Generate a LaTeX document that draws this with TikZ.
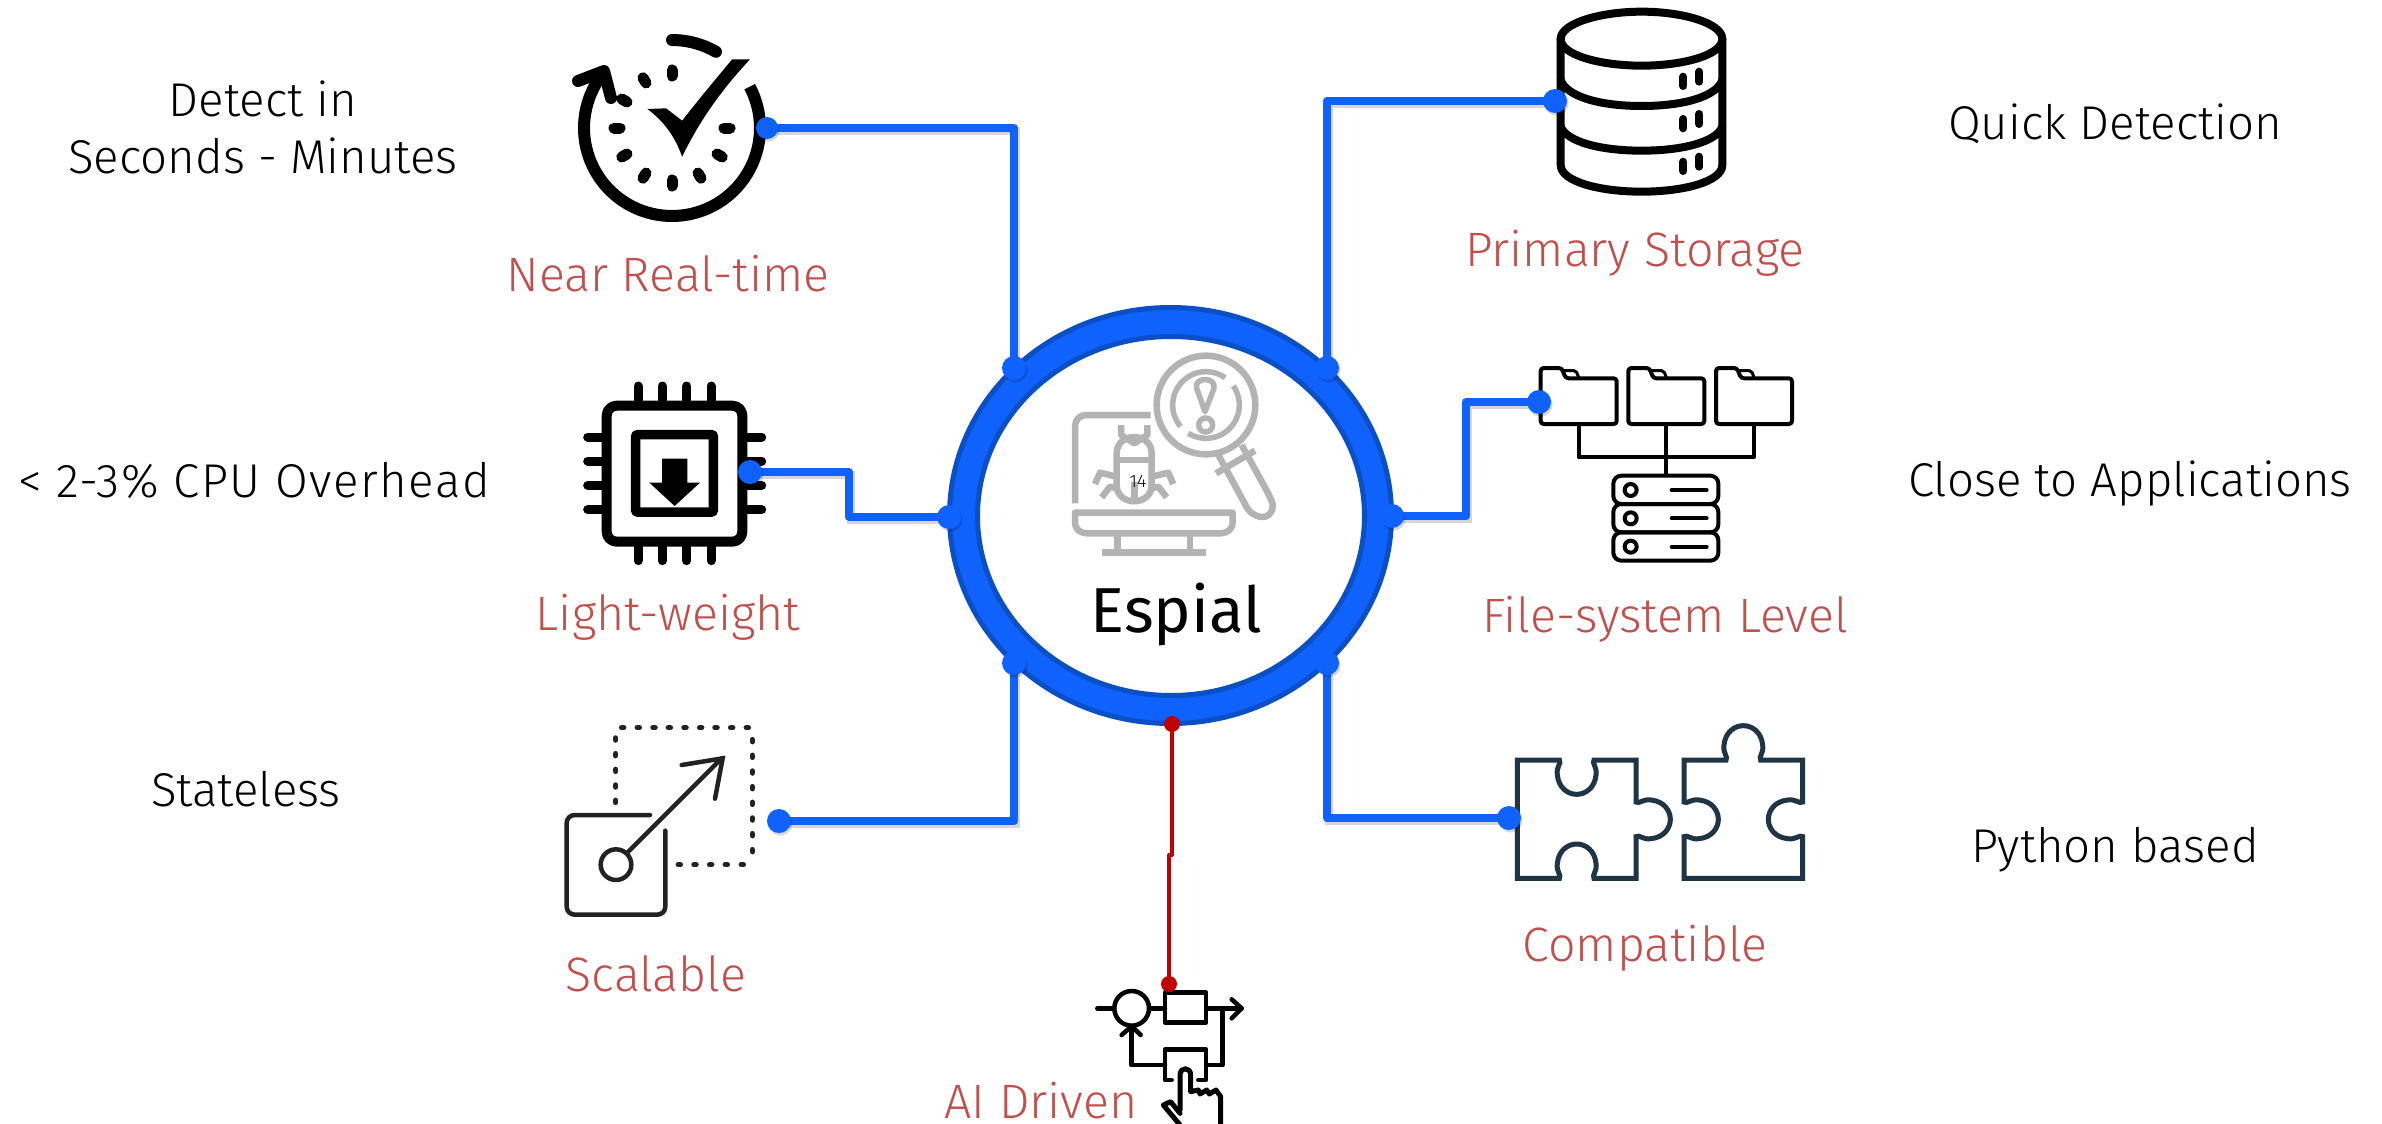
\documentclass[tikz,border=0pt]{standalone}
\usepackage{fontspec}
\setmainfont{Fira Sans Light}
\newfontfamily\regfont{Fira Sans}
\usetikzlibrary{shapes.geometric,shadows}
\pgfdeclarelayer{backpart}
\pgfdeclarelayer{wirepart}
\pgfsetlayers{backpart,wirepart,main}
\definecolor{ringblue}{HTML}{0F62FE}
\definecolor{ringedge}{HTML}{0B4FC4}
\definecolor{labelred}{HTML}{C0504D}
\definecolor{wirered}{HTML}{C00000}
\definecolor{icongrey}{HTML}{B3B3B3}
\definecolor{puzzleink}{HTML}{1F3545}
\definecolor{scaleink}{HTML}{222222}
\newcommand{\knob}[6]{-- ({#1-52*(#3)},{#2-52*(#4)})
 .. controls ({#1-45*(#3)+10*(#5)},{#2-45*(#4)+10*(#6)}) and ({#1-62*(#3)+20*(#5)},{#2-62*(#4)+20*(#6)}) .. ({#1-58*(#3)+45*(#5)},{#2-58*(#4)+45*(#6)})
 .. controls ({#1-54*(#3)+85*(#5)},{#2-54*(#4)+85*(#6)}) and ({#1-25*(#3)+103*(#5)},{#2-25*(#4)+103*(#6)}) .. ({#1+103*(#5)},{#2+103*(#6)})
 .. controls ({#1+25*(#3)+103*(#5)},{#2+25*(#4)+103*(#6)}) and ({#1+54*(#3)+85*(#5)},{#2+54*(#4)+85*(#6)}) .. ({#1+58*(#3)+45*(#5)},{#2+58*(#4)+45*(#6)})
 .. controls ({#1+62*(#3)+20*(#5)},{#2+62*(#4)+20*(#6)}) and ({#1+45*(#3)+10*(#5)},{#2+45*(#4)+10*(#6)}) .. ({#1+52*(#3)},{#2+52*(#4)})}
\tikzset{
  wire/.style={draw=ringblue,line width=8pt,line join=round,
    preaction={draw=black,opacity=.16,line width=8pt,transform canvas={xshift=1.5pt,yshift=-2.5pt}}},
  redwire/.style={draw=wirered,line width=4pt,line join=round},
  bluedot/.style={circle,fill=ringblue,inner sep=0pt,minimum size=24pt,
    drop shadow={shadow xshift=1.5pt,shadow yshift=-2.5pt,opacity=.16,fill=black}},
  reddot/.style={circle,fill=wirered,inner sep=0pt,minimum size=16pt},
  redlabel/.style={text=labelred,inner sep=0pt,anchor=base,font=\fontsize{48.3}{58}\selectfont},
  blacklabel/.style={text=black,inner sep=0pt,anchor=base,align=center,font=\fontsize{47.4}{57}\selectfont},
  ink/.style={draw=black,line cap=round,line join=round},
  greyink/.style={draw=icongrey,line width=6.5pt,line join=round},
}
\begin{document}
\begin{tikzpicture}[x=1pt,y=-1pt]
\useasboundingbox (0,0) rectangle (2382,1124);

\coordinate (c1a) at (1014,128);
\coordinate (c2a) at (849,472);
\coordinate (c2b) at (849,517);
\coordinate (c3a) at (1014,821);
\coordinate (c4a) at (1327,101);
\coordinate (c5a) at (1466,402);
\coordinate (c5b) at (1466,516);
\coordinate (c6a) at (1327,818);
\coordinate (c7a) at (1172,855);
\coordinate (c7b) at (1169,855);

\begin{pgfonlayer}{backpart}
\fill[white] (0,0) rectangle (2382,1124);

%% hub
\node[ellipse,fill=ringblue,draw=ringedge,line width=5pt,inner sep=0pt,minimum width=442pt,minimum height=416pt] (hubouter) at (1170.5,515.5) {};
\node[ellipse,fill=white,draw=ringedge,line width=5pt,inner sep=0pt,minimum width=387pt,minimum height=359pt] (hubinner) at (1171,516) {};

%% clock icon
\draw[ink,line width=12pt,line cap=round] plot[domain=90:60,samples=12,smooth] ({672+88*cos(\x)},{128-88*sin(\x)});
\draw[ink,line width=12pt,line cap=butt] plot[domain=28:-214,samples=60,smooth] ({672+88*cos(\x)},{128-88*sin(\x)});
\draw[ink,line width=12pt] (578,81) -- (604,71) -- (611,98);
\foreach \a in {90,120,150,180,210,240,270,300,330,0}
  \draw[ink,line width=11pt] ({672+52*cos(\a)},{128-52*sin(\a)}) -- ({672+58*cos(\a)},{128-58*sin(\a)});
\begin{scope}[shift={(500,0)},xscale=1/2.8,yscale=1/3]
  \fill[black] (413,327) -- (465,325) -- (510,362) .. controls (570,280) and (610,230) .. (650,178) -- (700,178)
    .. controls (620,270) and (560,360) .. (510,470) .. controls (490,410) and (460,365) .. (413,327) -- cycle;
\end{scope}

%% cpu icon
\begin{scope}[shift={(540,360)},scale=1/3]
  \draw[ink,line width=10pt,rounded corners=10pt] (200,137) rectangle (607,545);
  \draw[ink,line width=9.5pt,rounded corners=1pt] (287,224) rectangle (520,456);
  \fill[black] (366,296) -- (442,296) -- (442,368) -- (480,368) -- (404,438) -- (328,368) -- (366,368) -- cycle;
  \foreach \p in {294,367,440,513} {
    \draw[ink,line width=9pt] (\p,122) -- (\p,78);
    \draw[ink,line width=9pt] (\p,558) -- (\p,602);
  }
  \foreach \p in {231,303,376,449} {
    \draw[ink,line width=9pt] (187,\p) -- (143,\p);
    \draw[ink,line width=9pt] (620,\p) -- (665,\p);
  }
\end{scope}

%% scale icon
\begin{scope}[shift={(540,700)},scale=1/3]
  \foreach \p in {248,295,342,388,435,482,528,575,622} \draw[draw=scaleink,line cap=round,line width=5.5pt] (\p-3,83) -- (\p+3,83);
  \foreach \p in {117,164,211,258,304} \draw[draw=scaleink,line cap=round,line width=5.5pt] (227,\p-3) -- (227,\p+3);
  \foreach \p in {122,169,216,263,310,357,404,452} \draw[draw=scaleink,line cap=round,line width=5.5pt] (637,\p-3) -- (637,\p+3);
  \foreach \p in {418,465,512,559,607} \draw[draw=scaleink,line cap=round,line width=5.5pt] (\p-3,494) -- (\p+3,494);
  \draw[draw=scaleink,line width=4.5pt,line cap=round,rounded corners=8pt] (330,345) -- (80,345) -- (80,644) -- (376,644) -- (376,392);
  \draw[draw=scaleink,line width=4.5pt] (228,494) circle[radius=46pt];
  \draw[draw=scaleink,line width=4.5pt,line cap=round] (262,458) -- (545,175);
  \draw[draw=scaleink,line width=4.5pt,line cap=round,line join=miter] (425,195) -- (548,175) -- (525,296);
\end{scope}

%% database icon
\begin{scope}[shift={(1500,0)},scale=1/3]
  \draw[ink,line width=8pt] (182,117) .. controls (182,70) and (300,35) .. (425,35) .. controls (550,35) and (667,70) .. (667,117)
    .. controls (667,165) and (550,197) .. (425,197) .. controls (300,197) and (182,165) .. (182,117) -- cycle;
  \draw[ink,line width=8pt] (182,117) -- (182,495) .. controls (182,545) and (300,575) .. (425,575) .. controls (550,575) and (667,545) .. (667,495) -- (667,117);
  \draw[ink,line width=8pt] (182,240) .. controls (200,290) and (300,318) .. (425,318) .. controls (550,318) and (650,290) .. (667,240);
  \draw[ink,line width=8pt] (182,380) .. controls (200,425) and (300,452) .. (425,452) .. controls (550,452) and (650,425) .. (667,380);
  \foreach \d in {0,127,255} {
    \draw[ink,line width=8pt] (550,{230+\d}) -- (550,{258+\d});
    \draw[ink,line width=8pt] (598,{215+\d}) -- (598,{245+\d});
  }
\end{scope}

%% file-system icon
\begin{scope}[shift={(1500,340)},scale=1/3]
  \foreach \d in {0,263,526} {
    \draw[ink,line width=4pt,rounded corners=3pt] ({122+\d},84) -- ({122+\d},252) -- ({350+\d},252) -- ({350+\d},115) -- ({197+\d},115) -- ({185+\d},84) -- cycle;
    \draw[ink,line width=3pt,rounded corners=2pt] ({190+\d},92) -- ({228+\d},92) -- ({236+\d},112);
  }
  \draw[ink,line width=4pt] (236,252) -- (236,352) -- (762,352) -- (762,252);
  \draw[ink,line width=4pt] (497,252) -- (497,405);
  \foreach \d in {0,85,170} {
    \draw[ink,line width=4pt,rounded corners=8pt] (340,{407+\d}) rectangle (655,{492+\d});
    \draw[ink,line width=4pt] (392,{450+\d}) circle[radius=18pt];
    \draw[ink,line width=4pt] (515,{450+\d}) -- (620,{450+\d});
  }
\end{scope}

%% puzzle icon
\begin{scope}[shift={(1480,700)},scale=1/3]
  \draw[draw=puzzleink,line width=5pt,line join=miter]
    (112,180) \knob{290}{180}{1}{0}{0}{1} -- (468,180) \knob{468}{358}{0}{1}{1}{0} -- (468,535) \knob{290}{535}{-1}{0}{0}{-1} -- (112,535) -- cycle;
  \draw[draw=puzzleink,line width=5pt,line join=miter]
    (612,180) \knob{790}{180}{1}{0}{0}{-1} -- (968,180) \knob{968}{358}{0}{1}{-1}{0} -- (968,535) -- (612,535) \knob{612}{358}{0}{-1}{1}{0} -- cycle;
\end{scope}

%% AI icon
\begin{scope}[shift={(920,950)},scale=1/3]
  \draw[ink,line width=4.5pt] (532,175) -- (582,175);
  \draw[ink,line width=4.5pt] (635,175) circle[radius=52pt];
  \draw[ink,line width=4.5pt] (690,175) -- (735,175);
  \draw[ink,line width=4.5pt] (735,128) rectangle (858,218);
  \draw[ink,line width=4.5pt] (858,175) -- (965,175);
  \draw[ink,line width=4.5pt] (935,148) -- (965,175) -- (935,205);
  \draw[ink,line width=4.5pt] (907,175) -- (907,345) -- (858,345);
  \draw[ink,line width=4.5pt] (755,390) -- (735,390) -- (735,298) -- (858,298) -- (858,390) -- (835,390);
  \draw[ink,line width=4.5pt] (735,345) -- (635,345) -- (635,230);
  \draw[ink,line width=4.5pt] (605,255) -- (635,228) -- (662,255);
  \draw[ink,line width=5pt] (780,480) -- (780,375) .. controls (780,350) and (812,350) .. (812,375) -- (812,425)
    -- (835,420) -- (840,432) -- (860,420) -- (868,432) -- (888,420) -- (902,440) -- (902,530);
  \draw[ink,line width=5pt] (780,490) -- (752,455) -- (730,465) -- (780,525);
\end{scope}

%% bug monitor icon
\begin{scope}[shift={(920,280)},scale=1/3]
  \draw[greyink,rounded corners=11pt] (692,405) -- (465,405) -- (465,670);
  \draw[greyink] (465,698) -- (938,698) -- (938,725) .. controls (938,750) and (920,760) .. (900,760) -- (505,760) .. controls (480,760) and (465,750) .. (465,725) -- cycle;
  \draw[greyink] (593,760) -- (593,815);
  \draw[greyink] (810,760) -- (810,815);
  \draw[greyink] (545,817) -- (858,817);
  \draw[greyink] (858,375) circle[radius=148pt];
  \draw[draw=icongrey,line width=5.5pt] plot[domain=55:220,samples=30,smooth] ({858+100*cos(\x)},{375-100*sin(\x)});
  \draw[draw=icongrey,line width=5.5pt] plot[domain=238:395,samples=30,smooth] ({858+100*cos(\x)},{375-100*sin(\x)});
  \draw[draw=icongrey,line width=5.5pt,line join=round] (855,395) -- (830,325) .. controls (820,290) and (890,290) .. (882,325) -- cycle;
  \draw[draw=icongrey,line width=5.5pt] (857,435) circle[radius=21pt];
  \draw[greyink] (895,525) -- (975,672) .. controls (995,720) and (1055,725) .. (1058,680) .. controls (1060,665) and (1050,650) .. (965,495);
  \draw[greyink] (888,580) -- (1005,512);
  \draw[greyink] (590,590) -- (590,520) .. controls (590,455) and (695,455) .. (695,520) -- (695,615) .. controls (695,680) and (590,680) .. (590,615) -- cycle;
  \draw[greyink] (590,540) -- (695,540);
  \draw[greyink] (643,605) -- (643,660);
  \draw[greyink] (603,435) -- (603,465) -- (643,490) -- (682,465) -- (682,435);
  \draw[greyink] (590,590) -- (540,578) -- (525,612);
  \draw[greyink] (590,625) -- (570,620) -- (545,652);
  \draw[greyink] (695,590) -- (745,578) -- (760,612);
  \draw[greyink] (695,625) -- (715,620) -- (740,652);
\end{scope}
\end{pgfonlayer}

%% dots
\node[bluedot,minimum size=22pt] (d1) at (767,128) {};
\node[bluedot] (d2) at (750,472) {};
\node[bluedot] (d3) at (779,821) {};
\node[bluedot] (d4) at (1555,101) {};
\node[bluedot] (d5) at (1539,402) {};
\node[bluedot] (d6) at (1509,818) {};
\node[bluedot] (r1) at (1014,368) {};
\node[bluedot] (r2) at (949,517) {};
\node[bluedot] (r3) at (1014,663) {};
\node[bluedot] (r4) at (1327,368) {};
\node[bluedot] (r5) at (1392,516) {};
\node[bluedot] (r6) at (1327,663) {};
\node[reddot] (r7) at (1172,724) {};
\node[reddot] (d7) at (1169,984) {};

%% connectors
\begin{pgfonlayer}{wirepart}
\draw[wire] (d1.center) -- (c1a) -- (r1.center);
\draw[wire] (d2.center) -- (c2a) -- (c2b) -- (r2.center);
\draw[wire] (d3.center) -- (c3a) -- (r3.center);
\draw[wire] (d4.center) -- (c4a) -- (r4.center);
\draw[wire] (d5.center) -- (c5a) -- (c5b) -- (r5.center);
\draw[wire] (d6.center) -- (c6a) -- (r6.center);
\draw[redwire] (r7.center) -- (c7a) -- (c7b) -- (d7.center);
\end{pgfonlayer}

%% text
\node[inner sep=0pt,font=\fontsize{18}{20}\selectfont] (pageno) at (1138,481) {14};
\node[anchor=base,inner sep=0pt,font=\regfont\fontsize{63.5}{76}\selectfont] (espial) at (1176,632) {Espial};
\node[redlabel] (l1) at (668,291) {Near Real-time};
\node[redlabel] (l2) at (668,630) {Light-weight};
\node[redlabel] (l3) at (656,991) {Scalable};
\node[redlabel] (l4) at (1635,266) {Primary Storage};
\node[redlabel] (l5) at (1665,632) {File-system Level};
\node[redlabel] (l6) at (1645,961) {Compatible};
\node[redlabel] (l7) at (1041,1118) {AI Driven};
\node[blacklabel,anchor=center] (t1) at (263,127) {Detect in\\Seconds - Minutes};
\node[blacklabel] (t2) at (254,497) {\addfontfeature{LetterSpace=3.2}< 2-3\% CPU Overhead};
\node[blacklabel] (t3) at (246,806) {Stateless};
\node[blacklabel] (t4) at (2115,139) {Quick Detection};
\node[blacklabel] (t5) at (2130,496) {Close to Applications};
\node[blacklabel] (t6) at (2115,862) {Python based};
\end{tikzpicture}
\end{document}
